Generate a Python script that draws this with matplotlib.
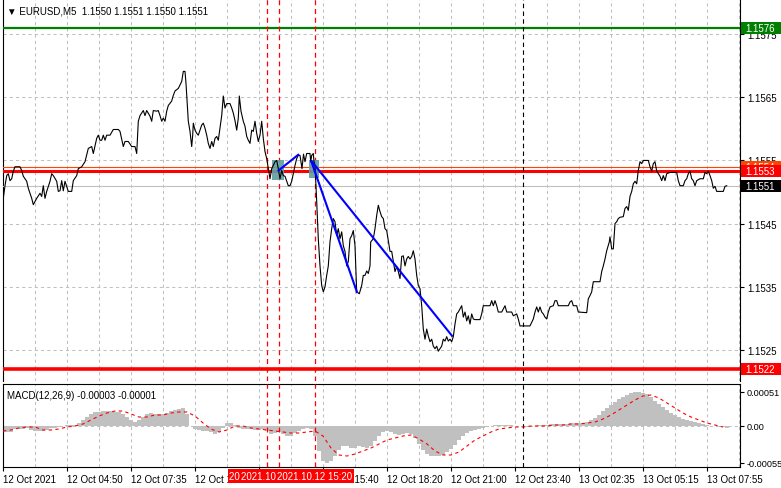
import numpy as np
import matplotlib
matplotlib.use("Agg")
import matplotlib.pyplot as plt
from matplotlib.patches import Rectangle
from matplotlib import transforms

plt.rcParams['font.family'] = ['Liberation Sans', 'DejaVu Sans']

# ---------------- data ----------------
symbol_title = "\u25bc EURUSD,M5  1.1550 1.1551 1.1550 1.1551"
macd_title = "MACD(12,26,9) -0.00003 -0.00001"

# time position (chart slots, 2 slots = one M5 bar) and close price
price_t = [
    3.3, 5, 6.7, 8.3, 10, 11.7, 13.3, 15, 20, 21.7, 23.3, 26.7, 28.3, 31.7, 33.3, 36.7, 40, 41.7, 43.3, 45,
    46.7, 50, 51.7, 53.3, 56.7, 58.3, 60, 61.7, 63.3, 65, 68.3, 71.7, 73.3, 76.7, 78.3, 81.7, 85, 88.3, 91.7, 93.3,
    96.7, 98.3, 100, 101.7, 103.3, 105, 106.7, 110, 113.3, 118.3, 120, 123.3, 125, 128.3, 131.7, 135, 136.7, 138.3, 140, 143.3,
    145, 146.7, 150, 151.7, 153.3, 156.7, 158.3, 160, 161.7, 163.3, 165, 166.7, 168.3, 171.7, 173.3, 175, 178.3, 181.7, 183.3, 185,
    186, 188.3, 190, 191.7, 192.7, 193.3, 195, 196.7, 198.3, 200, 201.7, 203.3, 205, 206.7, 208.3, 210, 211.7, 213.3, 215, 216.7,
    218.3, 220, 221.7, 223.3, 225, 226.7, 230, 231.7, 233.3, 235, 236.7, 238.3, 239.3, 241, 243.3, 245, 246.7, 248.3, 250, 251.7,
    253.3, 255, 256.7, 258.3, 260, 261.7, 263.3, 265, 266.7, 268.3, 270, 271.7, 273.3, 275, 276.7, 278.3, 280, 281.7, 283.3, 285,
    286.7, 288.3, 290, 291.7, 293.3, 295, 296.7, 298.3, 300, 302, 303.5, 305, 306.7, 310, 310.7, 311.7, 313.3, 314, 315, 316.7,
    318.3, 320, 321.7, 323.3, 325, 326.7, 328.3, 330, 331.7, 333.3, 335, 336.7, 338.3, 340, 341.7, 343.3, 345, 346.7, 348.3, 350,
    351.7, 353.3, 355, 356.7, 359.3, 361.7, 363.3, 365, 366.7, 368.3, 370, 370.7, 373.3, 375, 376.7, 378.3, 380, 381.7, 383.3, 385,
    386.7, 388.3, 390, 391.7, 393.3, 395, 396.7, 398.3, 400, 401.7, 403.3, 405, 406.7, 408.3, 410, 411.7, 413.3, 415, 416.7, 418.3,
    420, 421.7, 423.3, 425, 426.7, 428.3, 430, 431.7, 433.3, 435, 436.7, 438.3, 440, 441.7, 443.3, 445, 446.7, 448.3, 450, 451.7,
    453.3, 455, 456.7, 458.3, 460, 461.7, 463.3, 465, 466.7, 468.3, 470, 471.7, 473.3, 475, 480, 481.7, 483.3, 490, 491.7, 493.3,
    495, 496.7, 498.3, 501.7, 505, 506.7, 511.7, 513.3, 516.7, 518.3, 520, 530, 533.3, 535, 536.7, 538.3, 540, 541.7, 543.3, 545,
    546.7, 548.3, 550, 553.3, 555, 556.7, 558.3, 568.3, 570, 571.7, 573.3, 576.7, 578.3, 586.7, 588.3, 590, 591.7, 593.3, 600, 601.7,
    603.3, 605, 606.7, 609.3, 610, 611.7, 613.3, 615, 616.7, 618.3, 620, 623.3, 625, 626.7, 628.3, 630, 631.7, 633.3, 635, 636.7,
    638.3, 640, 641.7, 643.3, 648.3, 650, 651.7, 653.3, 655, 656.7, 658.3, 660, 661.7, 663.3, 665, 666.7, 670, 676.7, 678.3, 680,
    683.3, 685, 686.7, 688.3, 690, 691.7, 693.3, 695, 696.7, 700, 703.3, 705, 706.7, 708.3, 710, 711.7, 713.3, 715, 716.7, 723.3,
    725, 726.7]

price_close = [
    1.15490, 1.15510, 1.15526, 1.15529, 1.15518, 1.15521, 1.15533, 1.15540, 1.15540, 1.15534, 1.15525, 1.15517, 1.15506, 1.15490, 1.15480, 1.15490, 1.15498, 1.15493, 1.15510, 1.15490,
    1.15501, 1.15517, 1.15529, 1.15526, 1.15517, 1.15501, 1.15502, 1.15518, 1.15502, 1.15517, 1.15501, 1.15501, 1.15518, 1.15526, 1.15537, 1.15540, 1.15548, 1.15569, 1.15572, 1.15561,
    1.15585, 1.15590, 1.15582, 1.15582, 1.15590, 1.15582, 1.15590, 1.15590, 1.15599, 1.15599, 1.15596, 1.15572, 1.15580, 1.15580, 1.15572, 1.15572, 1.15561, 1.15612, 1.15621, 1.15629,
    1.15621, 1.15629, 1.15620, 1.15612, 1.15629, 1.15628, 1.15629, 1.15621, 1.15612, 1.15617, 1.15612, 1.15628, 1.15637, 1.15644, 1.15653, 1.15660, 1.15664, 1.15675, 1.15691, 1.15691,
    1.15672, 1.15612, 1.15596, 1.15572, 1.15590, 1.15609, 1.15598, 1.15593, 1.15590, 1.15598, 1.15606, 1.15609, 1.15601, 1.15590, 1.15577, 1.15569, 1.15580, 1.15572, 1.15585, 1.15588,
    1.15582, 1.15601, 1.15621, 1.15652, 1.15633, 1.15640, 1.15640, 1.15633, 1.15625, 1.15613, 1.15598, 1.15617, 1.15652, 1.15628, 1.15612, 1.15604, 1.15588, 1.15582, 1.15577, 1.15598,
    1.15596, 1.15612, 1.15593, 1.15580, 1.15590, 1.15612, 1.15585, 1.15564, 1.15553, 1.15537, 1.15521, 1.15537, 1.15542, 1.15548, 1.15550, 1.15537, 1.15521, 1.15534, 1.15526, 1.15525,
    1.15517, 1.15510, 1.15510, 1.15517, 1.15529, 1.15542, 1.15553, 1.15558, 1.15558, 1.15537, 1.15560, 1.15548, 1.15561, 1.15561, 1.15548, 1.15558, 1.15561, 1.15548, 1.15542, 1.15485,
    1.15426, 1.15383, 1.15352, 1.15342, 1.15350, 1.15368, 1.15383, 1.15421, 1.15442, 1.15458, 1.15453, 1.15431, 1.15442, 1.15426, 1.15437, 1.15415, 1.15406, 1.15383, 1.15390, 1.15426,
    1.15431, 1.15439, 1.15415, 1.15342, 1.15339, 1.15352, 1.15368, 1.15368, 1.15375, 1.15371, 1.15383, 1.15421, 1.15426, 1.15442, 1.15463, 1.15479, 1.15469, 1.15461, 1.15458, 1.15442,
    1.15439, 1.15423, 1.15406, 1.15406, 1.15390, 1.15374, 1.15382, 1.15374, 1.15363, 1.15398, 1.15399, 1.15383, 1.15394, 1.15398, 1.15394, 1.15398, 1.15407, 1.15394, 1.15368, 1.15352,
    1.15347, 1.15320, 1.15283, 1.15267, 1.15283, 1.15272, 1.15263, 1.15267, 1.15256, 1.15252, 1.15256, 1.15248, 1.15252, 1.15256, 1.15267, 1.15264, 1.15271, 1.15264, 1.15267, 1.15263,
    1.15271, 1.15291, 1.15307, 1.15310, 1.15315, 1.15320, 1.15302, 1.15310, 1.15296, 1.15304, 1.15291, 1.15307, 1.15299, 1.15298, 1.15298, 1.15307, 1.15320, 1.15320, 1.15328, 1.15320,
    1.15328, 1.15320, 1.15310, 1.15310, 1.15320, 1.15310, 1.15310, 1.15304, 1.15307, 1.15299, 1.15288, 1.15288, 1.15299, 1.15310, 1.15318, 1.15310, 1.15318, 1.15310, 1.15307, 1.15302,
    1.15299, 1.15310, 1.15318, 1.15320, 1.15328, 1.15328, 1.15320, 1.15320, 1.15326, 1.15328, 1.15320, 1.15320, 1.15310, 1.15309, 1.15331, 1.15336, 1.15342, 1.15358, 1.15358, 1.15374,
    1.15383, 1.15394, 1.15407, 1.15421, 1.15429, 1.15410, 1.15410, 1.15450, 1.15453, 1.15458, 1.15460, 1.15461, 1.15474, 1.15477, 1.15471, 1.15493, 1.15501, 1.15513, 1.15517, 1.15513,
    1.15534, 1.15548, 1.15545, 1.15550, 1.15550, 1.15540, 1.15533, 1.15545, 1.15548, 1.15533, 1.15529, 1.15525, 1.15518, 1.15526, 1.15518, 1.15529, 1.15531, 1.15531, 1.15518, 1.15510,
    1.15510, 1.15518, 1.15521, 1.15529, 1.15533, 1.15521, 1.15518, 1.15510, 1.15518, 1.15521, 1.15521, 1.15531, 1.15529, 1.15533, 1.15526, 1.15518, 1.15506, 1.15509, 1.15501, 1.15501,
    1.15509, 1.15510]

price_ticks = [1.1525, 1.1535, 1.1545, 1.1555, 1.1565, 1.1575]
price_tick_labels = ["1.1525", "1.1535", "1.1545", "1.1555", "1.1565", "1.1575"]

level_prices = [1.1576, 1.1554, 1.15533, 1.1551, 1.1522]
level_labels = ["1.1576", "1.1554", "1.1553", "1.1551", "1.1522"]
level_line_colors = ["#008000", "#ff4500", "#ff0000", "#c0c0c0", "#ff0000"]
level_box_colors = ["#008000", "#ff4500", "#ff0000", "#000000", "#ff0000"]
level_line_widths = [1.6, 0.8, 2.2, 0.8, 2.6]

trend_t = [(277.7, 299), (311, 357.3), (311, 452.7)]
trend_price = [(1.15533, 1.15560), (1.15550, 1.15340), (1.15550, 1.15271)]

zone_t = [(272, 284), (309, 319)]
zone_price = [(1.15519, 1.15550), (1.15522, 1.15550)]

vline_t = [267, 279, 315]
vline_labels = ["2021.10.12 13:20", "2021.10.12 13:50", "2021.10.12 15:20"]
session_t = 523

time_tick_t = [3, 67, 131, 195, 259, 323, 387, 451, 515, 579, 643, 707]
time_tick_labels = ["12 Oct 2021", "12 Oct 04:50", "12 Oct 07:35", "12 Oct 10:15",
                    "12 Oct 12:55", "12 Oct 15:40", "12 Oct 18:20", "12 Oct 21:00",
                    "12 Oct 23:40", "13 Oct 02:35", "13 Oct 05:15", "13 Oct 07:55"]
grid_minor_t = [35, 99, 163, 227, 291, 355, 419, 483, 547, 611, 675, 739]

# MACD main (histogram) and signal, in units of 1e-5
macd_hist = [
    -9, -9, -9, -4.5, -4.5, -4.5, -3, -6, -7.5, -7.5,
    -7.5, -6, -3, -3, -1.5, 0, 1.5, 1.5, 1.5, 4.5,
    9, 13.5, 18, 21, 21, 22.5, 22.5, 22.5, 21, 21,
    18, 13.5, 9, 6, 9, 13.5, 18, 19.5, 18, 18,
    18, 19.5, 22.5, 24, 25.5, 27, 18, 0, -4.5, -6,
    -7.5, -7.5, -9, -12, -9, -3, 4.5, 4.5, 1.5, -3,
    -4.5, -4.5, -4.5, -6, -6, -4.5, -7.5, -12, -10.5, -9,
    -12, -15, -15, -10.5, -7.5, -4.5, -3, -4.5, -15, -37.5,
    -52.5, -55.5, -52.5, -45, -36, -30, -30, -33, -33, -30,
    -31.5, -33, -30, -22.5, -15, -9, -7.5, -9, -12, -13.5,
    -12, -10.5, -12, -18, -27, -36, -42, -45, -45, -45,
    -43.5, -39, -34.5, -28.5, -21, -15, -10.5, -7.5, -6, -4.5,
    -3, -1.5, 0, 1.5, 1.5, 1.5, 1.5, 1.5, 0, 0,
    -1.5, -1.5, -1.5, 0, 1.5, 1.5, 1.5, 3, 3, 3,
    3, 3, 4.5, 4.5, 4.5, 4.5, 6, 9, 12, 16.5,
    22.5, 27, 31.5, 36, 40.5, 43.5, 46.5, 49.5, 51, 51,
    49.5, 48, 43.5, 37.5, 33, 28.5, 24, 19.5, 16.5, 13.5,
    10.5, 9, 7.5, 6, 4.5, 3, 1.5, 0, 0, -1.5, -1.5, -3]
macd_hist_t = np.arange(3, 728, 4)

macd_signal = [
    -7.5, -6, -3, -1.5, -1.5, -6, -6, -4.5, -1.5, 0,
    3, 9, 15, 19.5, 22.5, 22.5, 18, 13.5, 13.5, 16.5,
    16.5, 19.5, 21, 21, 15, 4.5, -4.5, -9, -6, 0,
    0, -3, -4.5, -6, -7.5, -9, -10.5, -10.5, -9, -7.5,
    -15, -33, -43.5, -45, -42, -37.5, -33, -27, -21, -18,
    -15, -13.5, -19.5, -27, -37.5, -43.5, -43.5, -39, -30, -21,
    -15, -9, -4.5, -3, -1.5, -1.5, 0, 0, 0, 1.5,
    1.5, 3, 3, 4.5, 6, 10.5, 16.5, 24, 31.5, 39,
    45, 46.5, 42, 34.5, 27, 19.5, 13.5, 9, 4.5, 1.5,
    -1.5]
macd_signal_t = np.arange(3, 724, 8)

macd_ticks = [0.00051, 0.0, -0.00055]
macd_tick_labels = ["0.00051", "0.00", "-0.00055"]

# ---------------- layout ----------------
W, H = 781, 489
fig = plt.figure(figsize=(W / 100, H / 100), dpi=100)
fig.patch.set_facecolor('white')

def rect(l, t, r, b):
    return [l / W, 1 - b / H, (r - l) / W, (b - t) / H]

ax = fig.add_axes(rect(3, 0, 740, 382))
axm = fig.add_axes(rect(3, 385, 740, 468))

XL = (3, 740)
P_TOP, P_BOT = 1.158056, 1.152008
ax.set_xlim(*XL)
ax.set_ylim(P_BOT, P_TOP)
axm.set_xlim(*XL)
axm.set_ylim(-0.000615, 0.00063)

grid_kw = dict(color='#c0c0c0', linestyle=(0, (3, 3)), linewidth=0.75)

for a in (ax, axm):
    a.set_facecolor('white')
    a.set_axisbelow(True)
    a.set_xticks(time_tick_t)
    a.set_xticks(grid_minor_t, minor=True)
    a.grid(axis='x', which='both', **grid_kw)
    for s in a.spines.values():
        s.set_color('black')
        s.set_linewidth(0.8)

# main panel
ax.spines['top'].set_visible(False)
ax.spines['bottom'].set_visible(False)
ax.set_yticks(price_ticks)
ax.set_yticklabels(price_tick_labels)
ax.yaxis.tick_right()
ax.tick_params(axis='y', length=3, width=0.8, labelsize=7, pad=2, colors='black')
ax.tick_params(axis='x', which='both', length=0, labelbottom=False)
ax.grid(axis='y', which='major', **grid_kw)

# levels
for p, c, lw in zip(level_prices, level_line_colors, level_line_widths):
    ax.axhline(p, color=c, linewidth=lw, zorder=3)

# zones
for (t0, t1), (p0, p1) in zip(zone_t, zone_price):
    ax.add_patch(Rectangle((t0, p0), t1 - t0, p1 - p0, facecolor='#5f9ea0',
                           edgecolor='none', alpha=0.9, zorder=4))

# vertical lines
for t in vline_t:
    ax.axvline(t, color='#ff0000', linestyle=(0, (4, 3)), linewidth=0.9, zorder=3)
    axm.axvline(t, color='#ff0000', linestyle=(0, (4, 3)), linewidth=0.9, zorder=3)
ax.axvline(session_t, color='black', linestyle=(0, (4, 3)), linewidth=0.8, zorder=3)
axm.axvline(session_t, color='black', linestyle=(0, (4, 3)), linewidth=0.8, zorder=3)

# price line
ax.plot(price_t, price_close, color='black', linewidth=0.8, zorder=5)

# trend lines
for (t0, t1), (p0, p1) in zip(trend_t, trend_price):
    ax.plot([t0, t1], [p0, p1], color='#0000ff', linewidth=1.5, zorder=6,
            solid_capstyle='butt')

# level label boxes on the price scale (later ones drawn on top)
px_price = (P_TOP - P_BOT) / 382.0
box_h = 12 * px_price
bt = transforms.blended_transform_factory(ax.transAxes, ax.transData)
x_box = (741 - 3) / 737.0
w_box = 40 / 737.0
x_txt = (745 - 3) / 737.0
for i, (p, lab, c) in enumerate(zip(level_prices, level_labels, level_box_colors)):
    z = 10 + 2 * i
    ax.add_patch(Rectangle((x_box, p - box_h / 2), w_box, box_h, transform=bt,
                           facecolor=c, edgecolor='none', clip_on=False, zorder=z))
    ax.text(x_txt, p, lab, transform=bt, color='white', fontsize=7,
            ha='left', va='center', clip_on=False, zorder=z + 1)

fig.text(7 / W, 1 - 11 / H, symbol_title, fontsize=7, color='black',
         ha='left', va='center')

# MACD panel
axm.bar(macd_hist_t, np.array(macd_hist) * 1e-5, width=4, color='#c0c0c0',
        linewidth=0, zorder=2)
axm.plot(macd_signal_t, np.array(macd_signal) * 1e-5, color='#ff0000',
         linestyle=(0, (3, 3)), linewidth=0.8, zorder=4)
axm.axhline(0, **grid_kw, zorder=1)
axm.set_yticks(macd_ticks)
axm.set_yticklabels(macd_tick_labels)
axm.yaxis.tick_right()
axm.tick_params(axis='y', length=3, width=0.8, labelsize=6.6, pad=1.5, colors='black')
axm.set_xticklabels(time_tick_labels)
axm.tick_params(axis='x', which='major', length=3, width=0.8, labelsize=7, pad=2,
                colors='black')
axm.tick_params(axis='x', which='minor', length=0)
for lbl in axm.get_xticklabels():
    lbl.set_horizontalalignment('left')

fig.text(7 / W, 1 - 396 / H, macd_title, fontsize=7, color='black',
         ha='left', va='center')

# vertical line time labels on the time scale
vt = transforms.blended_transform_factory(axm.transData, fig.transFigure)
for i, (t, lab) in enumerate(zip(vline_t, vline_labels)):
    axm.text(t, 1 - 477 / H, lab, transform=vt, color='white', fontsize=7,
             ha='center', va='center', clip_on=False, zorder=20 + i,
             bbox=dict(boxstyle='square,pad=0.18', facecolor='#ff0000',
                       edgecolor='none'))

fig.savefig('out.png', dpi=100)
